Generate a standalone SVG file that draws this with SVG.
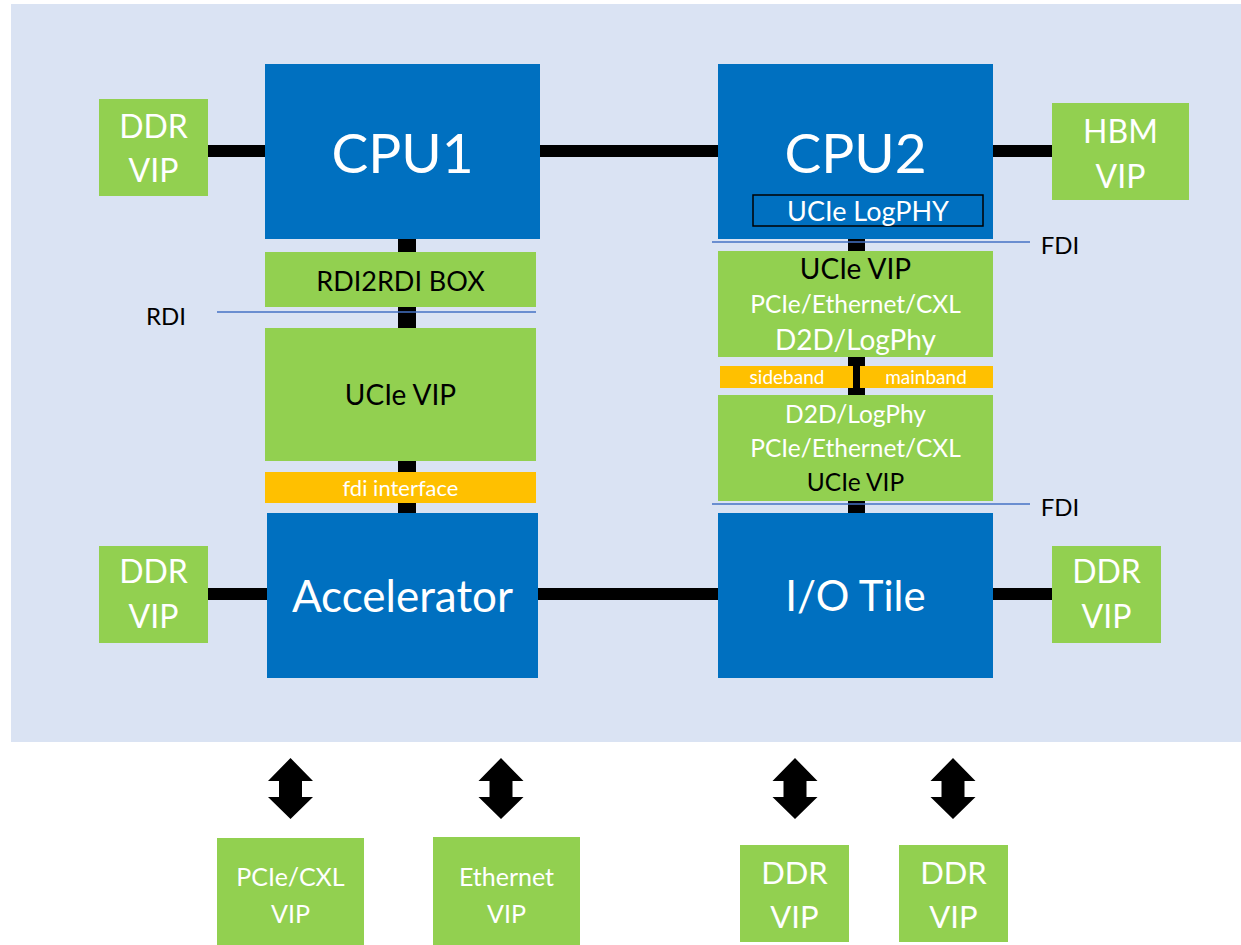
<svg xmlns="http://www.w3.org/2000/svg" xmlns:xlink="http://www.w3.org/1999/xlink" width="1241" height="945" viewBox="0 0 1241 945">
<defs>
<style>
.t{font-family:Lato,"Open Sans","Liberation Sans",sans-serif;text-anchor:middle}
.w{fill:#FFFFFF}
.k{fill:#000000}
.blue{fill:#0070C0}
.green{fill:#92D050}
.orange{fill:#FFC000}
.wire{fill:#000000}
.iface{stroke:#4472C4;stroke-width:1.5;fill:none}
</style>
<path id="dblarrow" d="M0,0 L22.5,23 L11.5,23 L11.5,39 L22.5,39 L0,61 L-22.5,39 L-11.5,39 L-11.5,23 L-22.5,23 Z" fill="#000000"/>
</defs>
<rect x="0" y="0" width="1241" height="945" fill="#FFFFFF"/>
<rect id="panel" x="11" y="4" width="1230" height="738" fill="#DAE3F3"/>

<g id="connectors">
<rect class="wire" x="208" y="145" width="57" height="12"/>
<rect class="wire" x="540" y="145" width="178" height="12"/>
<rect class="wire" x="993" y="145" width="59" height="12"/>
<rect class="wire" x="208" y="588" width="59" height="12"/>
<rect class="wire" x="538" y="588" width="180" height="12"/>
<rect class="wire" x="993" y="588" width="59" height="12"/>
<rect class="wire" x="398" y="238" width="18" height="276"/>
<rect class="wire" x="848" y="230" width="17" height="284"/>
<use xlink:href="#dblarrow" x="290.5" y="758"/>
<use xlink:href="#dblarrow" x="501" y="758"/>
<use xlink:href="#dblarrow" x="795" y="758"/>
<use xlink:href="#dblarrow" x="953" y="758"/>
</g>

<g id="ddr-tl"><rect class="green" x="99" y="99" width="109" height="97"/>
<text class="t w" x="153.5" y="138" font-size="32">DDR</text>
<text class="t w" x="153.5" y="182" font-size="32">VIP</text></g>

<g id="cpu1"><rect class="blue" x="265" y="64" width="275" height="175"/>
<text class="t w" x="402.5" y="173" font-size="55">CPU1</text></g>

<g id="cpu2"><rect class="blue" x="718" y="64" width="275" height="175"/>
<text class="t w" x="855.5" y="173" font-size="55">CPU2</text></g>

<g id="ucie-logphy"><rect x="753" y="195" width="230" height="31" fill="#0070C0" stroke="#000000" stroke-width="1.5"/>
<text class="t w" x="868" y="221" font-size="27">UCIe LogPHY</text></g>

<g id="hbm"><rect class="green" x="1052" y="103" width="137" height="97"/>
<text class="t w" x="1120.5" y="143" font-size="32">HBM</text>
<text class="t w" x="1120.5" y="188" font-size="32">VIP</text></g>

<g id="rdi2rdi"><rect class="green" x="265" y="252" width="271" height="55"/>
<text class="t k" x="400.5" y="291" font-size="27">RDI2RDI BOX</text></g>

<g id="ucie-vip-left"><rect class="green" x="265" y="328" width="271" height="133"/>
<text class="t k" x="400.5" y="405" font-size="28">UCIe VIP</text></g>

<g id="fdi-interface"><rect class="orange" x="265" y="472" width="271" height="31"/>
<text class="t w" x="400.5" y="496" font-size="22">fdi interface</text></g>

<g id="ucie-vip-right-top"><rect class="green" x="718" y="251" width="275" height="106"/>
<text class="t k" x="855.5" y="279" font-size="28">UCIe VIP</text>
<text class="t w" x="855.5" y="313" font-size="24.5">PCIe/Ethernet/CXL</text>
<text class="t w" x="855.5" y="350" font-size="28">D2D/LogPhy</text></g>

<g id="sideband"><rect class="orange" x="720" y="366" width="133" height="22"/>
<text class="t w" x="787" y="384" font-size="19">sideband</text></g>
<g id="mainband"><rect class="orange" x="860" y="366" width="133" height="22"/>
<text class="t w" x="926" y="384" font-size="19">mainband</text></g>

<g id="ucie-vip-right-bottom"><rect class="green" x="718" y="395" width="275" height="106"/>
<text class="t w" x="855.5" y="423" font-size="24.5">D2D/LogPhy</text>
<text class="t w" x="855.5" y="457" font-size="24.5">PCIe/Ethernet/CXL</text>
<text class="t k" x="855.5" y="491" font-size="24.5">UCIe VIP</text></g>

<g id="labels">
<line class="iface" x1="217" y1="312" x2="536" y2="312"/>
<line class="iface" x1="712" y1="242" x2="1030" y2="242"/>
<line class="iface" x1="712" y1="504" x2="1030" y2="504"/>
<text class="t k" x="166" y="325" font-size="24">RDI</text>
<text class="t k" x="1060" y="254" font-size="24">FDI</text>
<text class="t k" x="1060" y="516" font-size="24">FDI</text>
</g>

<g id="accelerator"><rect class="blue" x="267" y="513" width="271" height="165"/>
<text class="t w" x="402.5" y="612" font-size="44">Accelerator</text></g>

<g id="io-tile"><rect class="blue" x="718" y="513" width="275" height="165"/>
<text class="t w" x="855.5" y="611" font-size="42">I/O Tile</text></g>

<g id="ddr-bl"><rect class="green" x="99" y="546" width="109" height="97"/>
<text class="t w" x="153.5" y="583" font-size="32">DDR</text>
<text class="t w" x="153.5" y="628" font-size="32">VIP</text></g>

<g id="ddr-br"><rect class="green" x="1052" y="546" width="109" height="97"/>
<text class="t w" x="1106.5" y="583" font-size="32">DDR</text>
<text class="t w" x="1106.5" y="628" font-size="32">VIP</text></g>

<g id="pcie-cxl-vip"><rect class="green" x="217" y="838" width="147" height="107"/>
<text class="t w" x="290.5" y="886" font-size="25">PCIe/CXL</text>
<text class="t w" x="290.5" y="923" font-size="25">VIP</text></g>

<g id="ethernet-vip"><rect class="green" x="433" y="837" width="147" height="108"/>
<text class="t w" x="506.5" y="886" font-size="25">Ethernet</text>
<text class="t w" x="506.5" y="923" font-size="25">VIP</text></g>

<g id="ddr-b1"><rect class="green" x="740" y="845" width="109" height="97"/>
<text class="t w" x="794.5" y="884" font-size="31">DDR</text>
<text class="t w" x="794.5" y="928" font-size="31">VIP</text></g>

<g id="ddr-b2"><rect class="green" x="899" y="845" width="109" height="97"/>
<text class="t w" x="953.5" y="884" font-size="31">DDR</text>
<text class="t w" x="953.5" y="928" font-size="31">VIP</text></g>
</svg>
